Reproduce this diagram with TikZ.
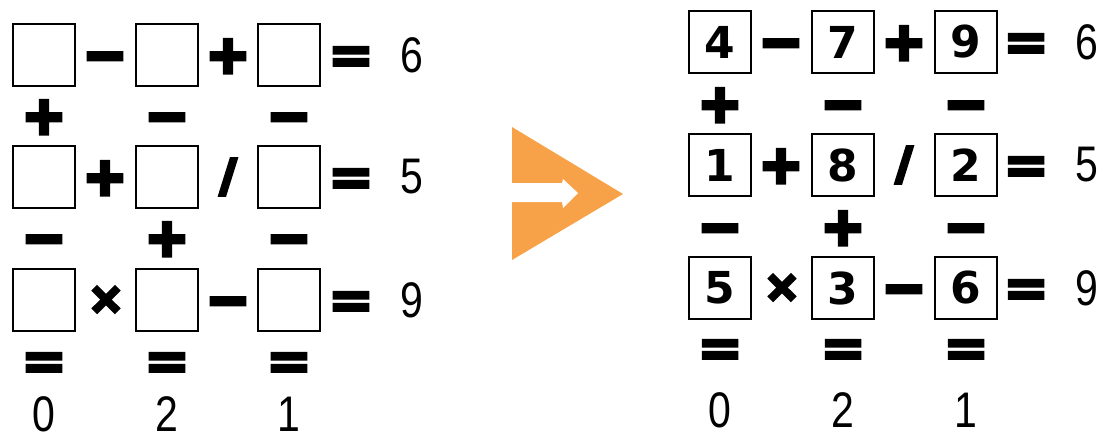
\documentclass[tikz,border=0pt]{standalone}
\usepackage{fontspec}
\setmainfont{Liberation Sans}
\newfontfamily\opfont{DejaVu Sans}[BoldFeatures={FakeBold=8}]
\newfontfamily\eqfont{DejaVu Sans}[BoldFeatures={FakeBold=5}]
\newfontfamily\digfont{DejaVu Sans}
\definecolor{arroworange}{RGB}{247,162,72}
\begin{document}
\begin{tikzpicture}[x=1pt,y=-1pt,
  cell/.style={draw, line width=1.7pt, minimum size=62pt, inner sep=0pt,
    font=\digfont\bfseries\fontsize{44}{44}\selectfont},
  op/.style={anchor=base, yshift=-17.5pt, inner sep=0pt,
    font=\opfont\bfseries\fontsize{52}{52}\selectfont},
  eqop/.style={anchor=base, yshift=-18.2pt, inner sep=0pt,
    font=\eqfont\bfseries\fontsize{54}{54}\selectfont},
  timesop/.style={inner sep=0pt,
    font=\opfont\bfseries\fontsize{42}{42}\selectfont},
  slash/.style={inner sep=0pt, font=\opfont\bfseries\fontsize{44}{44}\selectfont},
  res/.style={inner sep=0pt, font=\fontsize{50}{50}\selectfont, xscale=0.82}]
\useasboundingbox (0,0) rectangle (1105,441);
% ---------- left puzzle ----------
\foreach \r/\y in {1/55,2/177,3/300}{
  \foreach \c/\x in {1/44,2/167,3/289}{
    \node[cell] (L\r\c) at (\x,\y) {};
  }
}
\node[op] (Lh11) at (105,55) {−};
\node[op] (Lh12) at (228,55) {+};
\node[eqop] (Lh13) at (351,55) {=};
\node[res] (Lr1) at (412,55) {6};
\node[op] (Lh21) at (105,177) {+};
\node[slash] (Lh22) at (228,177) {/};
\node[eqop] (Lh23) at (351,177) {=};
\node[res] (Lr2) at (412,177) {5};
\node[timesop] (Lh31) at (106,300) {×};
\node[op] (Lh32) at (228,300) {−};
\node[eqop] (Lh33) at (351,300) {=};
\node[res] (Lr3) at (412,300) {9};
\node[op] (Lv11) at (44,116) {+};
\node[op] (Lv12) at (167,116) {−};
\node[op] (Lv13) at (289,116) {−};
\node[op] (Lv21) at (44,238) {−};
\node[op] (Lv22) at (167,238) {+};
\node[op] (Lv23) at (289,238) {−};
\node[eqop] (Lv31) at (44,361) {=};
\node[eqop] (Lv32) at (167,361) {=};
\node[eqop] (Lv33) at (289,361) {=};
\node[res] (Lb1) at (44,414) {0};
\node[res] (Lb2) at (167,414) {2};
\node[res] (Lb3) at (289,414) {1};
% ---------- arrow ----------
\fill[arroworange] (512,127) -- (623,194) -- (512,260) -- cycle;
\fill[white] (511,183) -- (562,183) -- (563,179) -- (578,193) -- (563,208) -- (562,202) -- (511,202) -- cycle;
% ---------- right puzzle ----------
\node[cell] (R11) at (720,42) {4};
\node[cell] (R12) at (843,42) {7};
\node[cell] (R13) at (966,42) {9};
\node[cell] (R21) at (720,165) {1};
\node[cell] (R22) at (843,165) {8};
\node[cell] (R23) at (966,165) {2};
\node[cell] (R31) at (720,288) {5};
\node[cell] (R32) at (843,288) {3};
\node[cell] (R33) at (966,288) {6};
\node[op] (Rh11) at (781,42) {−};
\node[op] (Rh12) at (904,42) {+};
\node[eqop] (Rh13) at (1026,42) {=};
\node[res] (Rr1) at (1087,42) {6};
\node[op] (Rh21) at (781,165) {+};
\node[slash] (Rh22) at (904,165) {/};
\node[eqop] (Rh23) at (1026,165) {=};
\node[res] (Rr2) at (1087,165) {5};
\node[timesop] (Rh31) at (782,288) {×};
\node[op] (Rh32) at (904,288) {−};
\node[eqop] (Rh33) at (1026,288) {=};
\node[res] (Rr3) at (1087,288) {9};
\node[op] (Rv11) at (720,104) {+};
\node[op] (Rv12) at (843,104) {−};
\node[op] (Rv13) at (966,104) {−};
\node[op] (Rv21) at (720,227) {−};
\node[op] (Rv22) at (843,227) {+};
\node[op] (Rv23) at (966,227) {−};
\node[eqop] (Rv31) at (720,348) {=};
\node[eqop] (Rv32) at (843,348) {=};
\node[eqop] (Rv33) at (966,348) {=};
\node[res] (Rb1) at (720,410) {0};
\node[res] (Rb2) at (843,410) {2};
\node[res] (Rb3) at (966,410) {1};
\end{tikzpicture}
\end{document}
